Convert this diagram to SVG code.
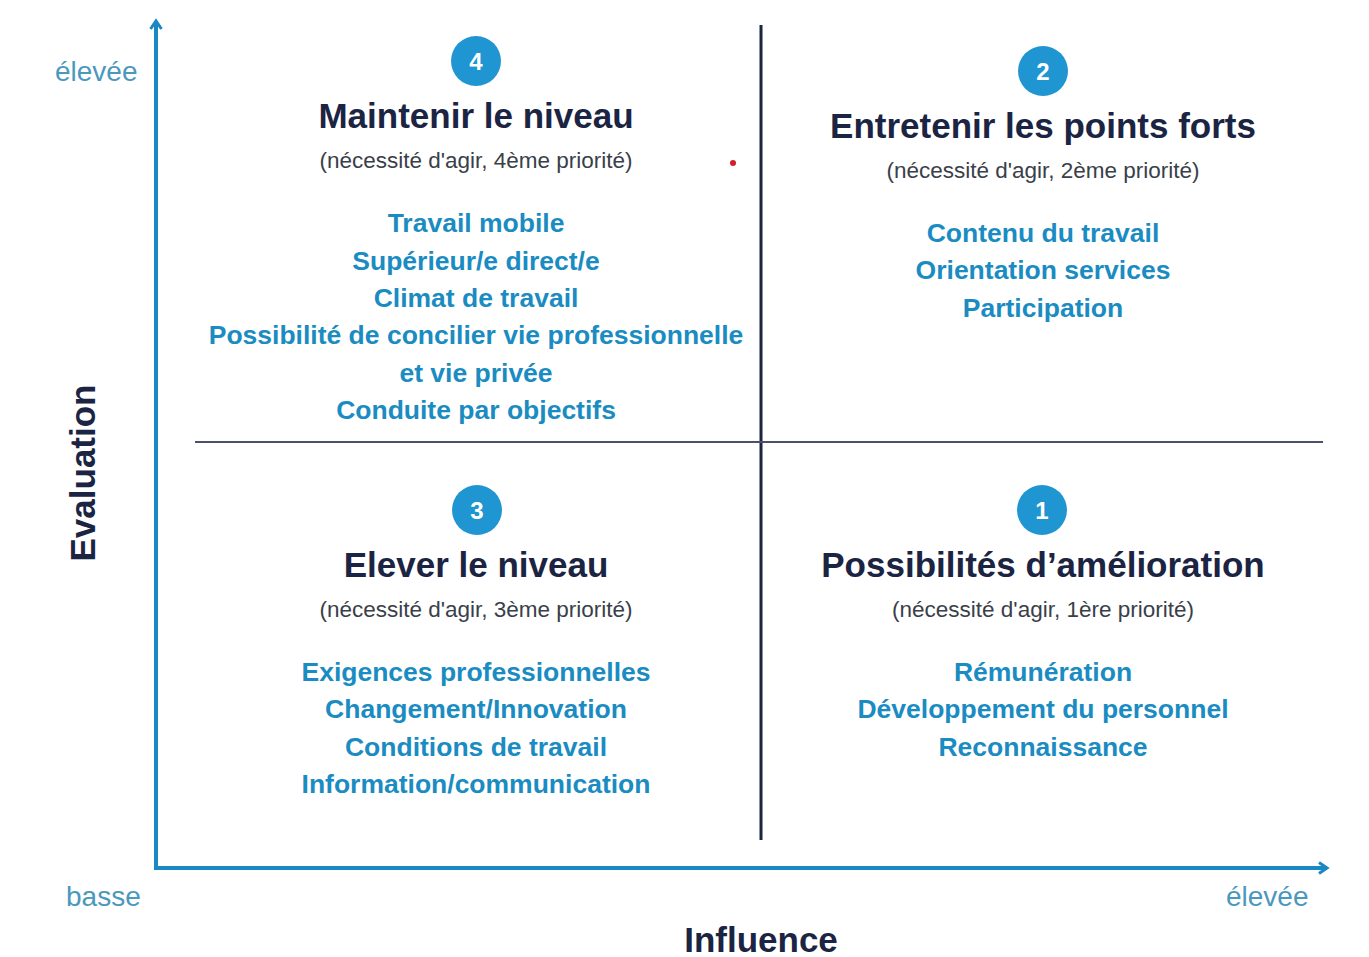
<svg xmlns="http://www.w3.org/2000/svg" width="1369" height="957" viewBox="0 0 1369 957">
<style>
.ttl{font-family:"Liberation Sans",Arial,sans-serif;font-weight:bold;font-size:35px;fill:#1b2442;text-anchor:middle}
.sub{font-family:"Liberation Sans",Arial,sans-serif;font-size:22.5px;fill:#3a3f4a;text-anchor:middle}
.item{font-family:"Liberation Sans",Arial,sans-serif;font-weight:bold;font-size:26.5px;fill:#1a8cc2;text-anchor:middle}
.num{font-family:"Liberation Sans",Arial,sans-serif;font-weight:bold;font-size:24px;fill:#ffffff;text-anchor:middle}
.lvl{font-family:"Liberation Sans",Arial,sans-serif;font-size:28px;fill:#4b98bd}
.axt{font-family:"Liberation Sans",Arial,sans-serif;font-weight:bold;font-size:35px;fill:#1b2442;text-anchor:middle}
.circ{fill:#1f95d1}
.axis{stroke:#1a88c2;stroke-width:4;fill:none}
</style>
<defs>
<marker id="arr" viewBox="0 0 14 14" refX="11" refY="7" markerWidth="14" markerHeight="14" markerUnits="userSpaceOnUse" orient="auto">
<path d="M3,1.5 L11,7 L3,12.5" fill="none" stroke="#1a88c2" stroke-width="3"/>
</marker>
</defs>
<rect width="1369" height="957" fill="#ffffff"/>
<g id="connectors">
<line class="axis" x1="156" y1="868" x2="156" y2="21" marker-end="url(#arr)"/>
<line class="axis" x1="154" y1="868" x2="1327" y2="868" marker-end="url(#arr)"/>
<line x1="761" y1="25" x2="761" y2="840" stroke="#1b2442" stroke-width="3"/>
<line x1="195" y1="442" x2="1323" y2="442" stroke="#4a5068" stroke-width="2"/>
</g>
<g id="axis-labels">
<text class="lvl" x="55" y="81">élevée</text>
<text class="lvl" x="66" y="906">basse</text>
<text class="lvl" x="1226" y="906">élevée</text>
<text class="axt" x="0" y="0" transform="translate(95,473) rotate(-90)">Evaluation</text>
<text class="axt" x="761" y="952">Influence</text>
</g>
<g id="q4">
<circle class="circ" cx="476" cy="61" r="25"/>
<text class="num" x="476" y="70">4</text>
<text class="ttl" x="476" y="128">Maintenir le niveau</text>
<text class="sub" x="476" y="168">(nécessité d'agir, 4ème priorité)</text>
<text class="item" x="476" y="232">Travail mobile</text>
<text class="item" x="476" y="270">Supérieur/e direct/e</text>
<text class="item" x="476" y="307">Climat de travail</text>
<text class="item" x="476" y="344">Possibilité de concilier vie professionnelle</text>
<text class="item" x="476" y="382">et vie privée</text>
<text class="item" x="476" y="419">Conduite par objectifs</text>
<circle cx="733" cy="163" r="3" fill="#d0202a"/>
</g>
<g id="q2">
<circle class="circ" cx="1043" cy="71" r="25"/>
<text class="num" x="1043" y="80">2</text>
<text class="ttl" x="1043" y="138">Entretenir les points forts</text>
<text class="sub" x="1043" y="178">(nécessité d'agir, 2ème priorité)</text>
<text class="item" x="1043" y="242">Contenu du travail</text>
<text class="item" x="1043" y="279">Orientation services</text>
<text class="item" x="1043" y="317">Participation</text>
</g>
<g id="q3">
<circle class="circ" cx="477" cy="510" r="25"/>
<text class="num" x="477" y="519">3</text>
<text class="ttl" x="476" y="577">Elever le niveau</text>
<text class="sub" x="476" y="617">(nécessité d'agir, 3ème priorité)</text>
<text class="item" x="476" y="681">Exigences professionnelles</text>
<text class="item" x="476" y="718">Changement/Innovation</text>
<text class="item" x="476" y="756">Conditions de travail</text>
<text class="item" x="476" y="793">Information/communication</text>
</g>
<g id="q1">
<circle class="circ" cx="1042" cy="510" r="25"/>
<text class="num" x="1042" y="519">1</text>
<text class="ttl" x="1043" y="577">Possibilités d’amélioration</text>
<text class="sub" x="1043" y="617">(nécessité d'agir, 1ère priorité)</text>
<text class="item" x="1043" y="681">Rémunération</text>
<text class="item" x="1043" y="718">Développement du personnel</text>
<text class="item" x="1043" y="756">Reconnaissance</text>
</g>
</svg>
